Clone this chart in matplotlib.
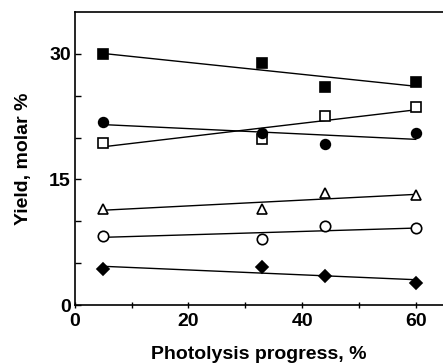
import matplotlib
matplotlib.use("Agg")
import matplotlib.pyplot as plt
import numpy as np

plt.rcParams["font.family"] = ["Liberation Sans", "DejaVu Sans"]
plt.rcParams["font.weight"] = "bold"

progress = [5, 33, 44, 60]
filled_square = [30.0, 28.9, 26.0, 26.6]
open_square = [19.4, 19.8, 22.6, 23.6]
filled_circle = [21.9, 20.6, 19.2, 20.6]
open_triangle = [11.5, 11.5, 13.4, 13.1]
open_circle = [8.3, 7.9, 9.4, 9.2]
filled_diamond = [4.25, 4.6, 3.45, 2.65]

series = [
    (filled_square, "s", "black", 6.5),
    (open_square, "s", "white", 7),
    (filled_circle, "o", "black", 7),
    (open_triangle, "^", "white", 7.5),
    (open_circle, "o", "white", 7.5),
    (filled_diamond, "D", "black", 6),
]


def main():
    fig = plt.figure(figsize=(4.43, 3.64), dpi=100)
    ax = fig.add_axes([0.169, 0.162, 0.831, 0.805])
    x = np.asarray(progress, dtype=float)
    for y, marker, face, ms in series:
        slope, icpt = np.polyfit(x, y, 1)
        xx = np.array([x.min(), x.max()])
        ax.plot(xx, slope * xx + icpt, color="black", lw=1.0, zorder=2)
        ax.plot(x, y, ls="none", marker=marker, mfc=face, mec="black",
                mew=1.2, ms=ms, zorder=3)
    ax.set_xlim(0, 64.8)
    ax.set_ylim(0, 35)
    ax.set_xticks([0, 20, 40, 60])
    ax.set_xticks([10, 30, 50], minor=True)
    ax.set_yticks([0, 15, 30])
    ax.set_yticks([5, 10, 20, 25], minor=True)
    ax.tick_params(which="both", direction="inout", length=5, width=1.0,
                   labelsize=14, pad=3)
    ax.tick_params(axis="y", which="both", direction="in", length=4)
    ax.spines["right"].set_visible(False)
    for s in ["left", "bottom", "top"]:
        ax.spines[s].set_linewidth(1.2)
    ax.set_xlabel("Photolysis progress, %", fontsize=14, fontweight="bold", labelpad=12)
    ax.set_ylabel("Yield, molar %", fontsize=14, fontweight="bold", labelpad=12)
    fig.savefig("out.png", dpi=100)
    return fig


if __name__ == "__main__":
    main()
